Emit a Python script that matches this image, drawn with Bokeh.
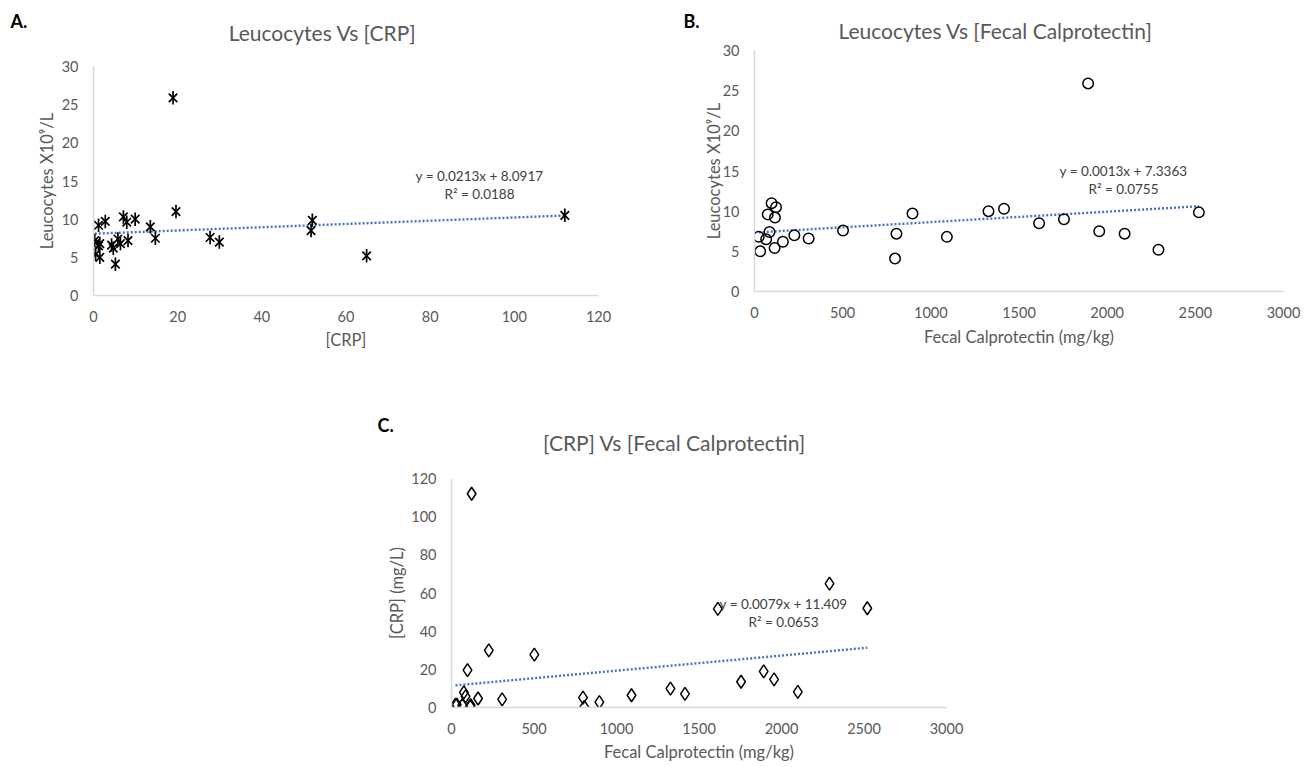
import math
from bokeh.plotting import figure
from bokeh.models import FixedTicker, Label, Range1d, Spacer
from bokeh.layouts import column, row
from bokeh.embed import file_html
from bokeh.resources import INLINE

# ---------------- data ----------------
# one entry per patient
fecal_calprotectin = [24, 32, 66, 75, 85, 97, 114, 116, 122, 161, 226, 307, 502,
                      797, 805, 896, 1091, 1327, 1415, 1614, 1755, 1892, 1955,
                      2099, 2291, 2520]
leucocytes = [6.8, 5.0, 6.5, 9.6, 7.4, 11.0, 5.4, 9.2, 10.5, 6.2, 7.0, 6.6, 7.6,
              4.1, 7.2, 9.7, 6.8, 10.0, 10.3, 8.5, 9.0, 25.9, 7.5,
              7.2, 5.2, 9.85]
crp = [1.5, 1.5, 1.2, 7.9, 5.8, 19.6, 0.5, 1.2, 112.0, 4.7, 29.9, 4.3, 27.7,
       5.2, 0.3, 2.8, 6.4, 9.9, 7.1, 51.7, 13.5, 18.9, 14.7,
       8.2, 64.9, 52.0]

titles = ["Leucocytes Vs [CRP]", "Leucocytes Vs [Fecal Calprotectin]",
          "[CRP] Vs [Fecal Calprotectin]"]
panel_letters = ["A.", "B.", "C."]
x_labels = ["[CRP]", "Fecal Calprotectin (mg/kg)", "Fecal Calprotectin (mg/kg)"]
y_labels = ["Leucocytes X10\u2079/L", "Leucocytes X10\u2079/L", "[CRP] (mg/L)"]
slopes = [0.0213, 0.0013, 0.0079]
intercepts = [8.0917, 7.3363, 11.409]
equations = ["y = 0.0213x + 8.0917", "y = 0.0013x + 7.3363", "y = 0.0079x + 11.409"]
r_squared = ["R\u00b2 = 0.0188", "R\u00b2 = 0.0755", "R\u00b2 = 0.0653"]
x_ticks = [[0, 20, 40, 60, 80, 100, 120],
           [0, 500, 1000, 1500, 2000, 2500, 3000],
           [0, 500, 1000, 1500, 2000, 2500, 3000]]
y_ticks = [[0, 5, 10, 15, 20, 25, 30],
           [0, 5, 10, 15, 20, 25, 30],
           [0, 20, 40, 60, 80, 100, 120]]

FONT = "Lato"
GREY = "#595959"
TREND = "#4472C4"


def make_header(i, width, height, letter_xy, title_xy):
    h = figure(width=width, height=height, output_backend="svg", toolbar_location=None,
               min_border=0, x_axis_type=None, y_axis_type=None,
               x_range=Range1d(0, 1), y_range=Range1d(0, 1))
    h.outline_line_color = None
    h.grid.visible = False
    h.add_layout(Label(x=letter_xy[0], y=letter_xy[1], x_units="screen", y_units="screen",
                       text=panel_letters[i], text_font=FONT, text_font_size="18px",
                       text_font_style="bold", text_color="black",
                       text_align="left", text_baseline="middle"))
    h.add_layout(Label(x=title_xy[0], y=title_xy[1], x_units="screen", y_units="screen",
                       text=titles[i], text_font=FONT, text_font_size="21px",
                       text_color=GREY, text_align="center", text_baseline="middle"))
    return h


def make_panel(i, xs, ys, width, height, bl, br, bt, bb, eq_xy, xl_standoff, yl_standoff):
    p = figure(width=width, height=height, output_backend="svg", toolbar_location=None,
               min_border_left=bl, min_border_right=br, min_border_top=bt,
               min_border_bottom=bb,
               x_range=Range1d(x_ticks[i][0], x_ticks[i][-1]),
               y_range=Range1d(y_ticks[i][0], y_ticks[i][-1]))
    p.outline_line_color = None
    p.grid.visible = False
    p.xaxis.ticker = FixedTicker(ticks=x_ticks[i])
    p.yaxis.ticker = FixedTicker(ticks=y_ticks[i])
    for ax in (p.xaxis, p.yaxis):
        ax.axis_line_color = "#d9d9d9"
        ax.axis_line_width = 1.5
        ax.major_tick_line_color = None
        ax.minor_tick_line_color = None
        ax.major_label_text_font = FONT
        ax.major_label_text_font_size = "14.5px"
        ax.major_label_text_color = GREY
        ax.axis_label_text_font = FONT
        ax.axis_label_text_font_size = "16.5px"
        ax.axis_label_text_font_style = "normal"
        ax.axis_label_text_color = GREY
    p.xaxis.major_label_standoff = 9
    p.yaxis.major_label_standoff = 9
    p.xaxis.axis_label = x_labels[i]
    p.yaxis.axis_label = y_labels[i]
    p.xaxis.axis_label_standoff = xl_standoff
    p.yaxis.axis_label_standoff = yl_standoff

    # linear trend line over the data range
    x0, x1 = min(xs), max(xs)
    p.line([x0, x1], [slopes[i] * x0 + intercepts[i], slopes[i] * x1 + intercepts[i]],
           line_color=TREND, line_width=2.4, line_dash="2 2")

    # markers
    if i == 0:
        p.scatter(xs, ys, marker="x", size=12, line_color="black", line_width=1.7)
        p.scatter(xs, ys, marker="dash", angle=math.pi / 2, size=13.5,
                  line_color="black", line_width=1.7)
    elif i == 1:
        p.scatter(xs, ys, marker="circle", size=10.5, fill_color=None,
                  line_color="black", line_width=1.5)
    else:
        p.scatter(xs, ys, marker="diamond", size=13, fill_color=None,
                  line_color="black", line_width=1.5)

    p.add_layout(Label(x=eq_xy[0], y=eq_xy[1], x_units="screen", y_units="screen",
                       text=equations[i], text_font=FONT, text_font_size="13.5px",
                       text_color="#404040", text_align="center", text_baseline="middle"))
    p.add_layout(Label(x=eq_xy[0], y=eq_xy[1] - 18, x_units="screen", y_units="screen",
                       text=r_squared[i], text_font=FONT, text_font_size="13.5px",
                       text_color="#404040", text_align="center", text_baseline="middle"))
    return p


hA = make_header(0, 680, 54, (10, 34), (322, 22))
pA = make_panel(0, crp, leucocytes, 680, 306, 93, 82, 12, 65, (386, 120), 5, 2)

hB = make_header(1, 626, 42, (3, 22), (315, 12))
pB = make_panel(1, fecal_calprotectin, leucocytes, 626, 318, 74, 23, 8, 69, (369, 121), 6, -4)

hC = make_header(2, 611, 100, (2, 36), (299, 18))
pC = make_panel(2, fecal_calprotectin, crp, 611, 304, 76, 40, 18, 55, (332, 104), 5, 1)

layout = column(row(column(row(hA), pA), column(row(hB), pB)),
                row(Spacer(width=375, height=404), column(row(hC), pC)))

with open("out.html", "w") as f:
    f.write(file_html(layout, INLINE))
